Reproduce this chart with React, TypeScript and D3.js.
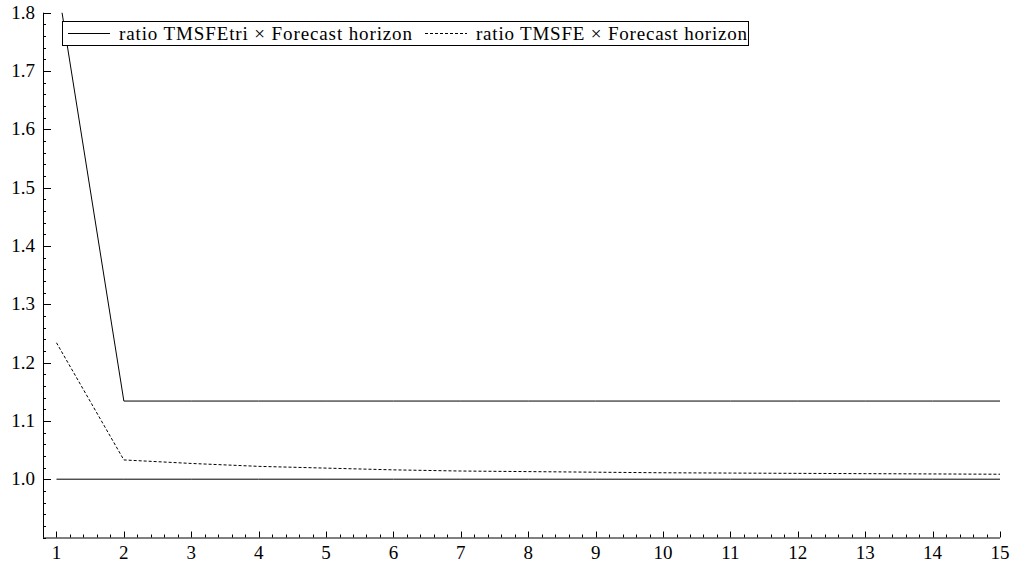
import * as d3 from 'd3';

// forecast horizon
const horizons = [1, 2, 3, 4, 5, 6, 7, 8, 9, 10, 11, 12, 13, 14, 15];
// ratio TMSFEtri (solid)
const ratioTri = [1.86, 1.134, 1.134, 1.134, 1.134, 1.134, 1.134, 1.134, 1.134, 1.134, 1.134, 1.134, 1.134, 1.134, 1.134];
// ratio TMSFE (dashed)
const ratioTmsfe = [1.234, 1.033, 1.027, 1.022, 1.019, 1.016, 1.014, 1.013, 1.012, 1.011, 1.0105, 1.01, 1.0095, 1.009, 1.0085];
// reference line at one
const baseline = [1, 1, 1, 1, 1, 1, 1, 1, 1, 1, 1, 1, 1, 1, 1];

const xMajor = horizons;
const yMajor = [1.0, 1.1, 1.2, 1.3, 1.4, 1.5, 1.6, 1.7, 1.8];
const legendLabels = ['ratio TMSFEtri \u00d7 Forecast horizon', 'ratio TMSFE \u00d7 Forecast horizon'];

const FS = 19;

const left = 43, right = 1000, top = 12.7, bottom = 537.5;
const x = d3.scaleLinear().domain([0.8, 15]).range([left, right]);
const y = d3.scaleLinear().domain([0.9, 1.8]).range([bottom, top]);

// minor ticks every 0.2 / 0.02
const xMinor = d3.range(8, 151, 2).map(v => v / 10).filter(v => !xMajor.includes(v));
const yMinor = d3.range(90, 181, 2).map(v => v / 100).filter(v => !yMajor.some(m => Math.abs(m - v) < 1e-9));

const line = (vals: number[]) => d3.line<number>()
    .x((_, i) => x(horizons[i]))
    .y(d => y(d))(vals) || '';

export default function App() {
    const legendItems = [
        { x0: 68, label: legendLabels[0], dash: undefined, w: 293 },
        { x0: 425, label: legendLabels[1], dash: '3,2', w: 271 },
    ];
    return (
        <div style={{ position: 'absolute', left: 0, top: 0 }}>
            <svg width={1013} height={563} style={{ display: 'block', background: '#fff', fontFamily: 'serif' }}>
                <defs>
                    <clipPath id="plot-clip">
                        <rect x={left} y={top} width={right - left + 2} height={bottom - top} />
                    </clipPath>
                </defs>

                {/* axes */}
                <line x1={left} x2={right} y1={bottom + 0.5} y2={bottom + 0.5} stroke="#000" />
                <line x1={left + 0.5} x2={left + 0.5} y1={top} y2={bottom} stroke="#000" />

                {xMajor.map(v => (
                    <g key={'xm' + v}>
                        <line x1={Math.round(x(v)) + 0.5} x2={Math.round(x(v)) + 0.5} y1={bottom} y2={bottom - 6} stroke="#000" />
                        <text x={x(v)} y={bottom + 21} textAnchor="middle" fontFamily="serif" fontSize={FS} fill="#000">{d3.format('d')(v)}</text>
                    </g>
                ))}
                {xMinor.map(v => (
                    <line key={'xn' + v} x1={Math.round(x(v)) + 0.5} x2={Math.round(x(v)) + 0.5} y1={bottom} y2={bottom - 3} stroke="#000" />
                ))}

                {yMajor.map(v => (
                    <g key={'ym' + v}>
                        <line x1={left} x2={left + 8} y1={Math.round(y(v)) + 0.5} y2={Math.round(y(v)) + 0.5} stroke="#000" />
                        <text x={left - 8} y={y(v) + 6} textAnchor="end" fontFamily="serif" fontSize={FS} fill="#000">{d3.format('.1f')(v)}</text>
                    </g>
                ))}
                {yMinor.map(v => (
                    <line key={'yn' + v} x1={left} x2={left + 3} y1={Math.round(y(v)) + 0.5} y2={Math.round(y(v)) + 0.5} stroke="#000" />
                ))}

                {/* series */}
                <g clipPath="url(#plot-clip)" fill="none" stroke="#000" strokeWidth={1}>
                    <path d={line(baseline)} />
                    <path d={line(ratioTri)} />
                    <path d={line(ratioTmsfe)} strokeDasharray="3,2" />
                </g>

                {/* legend */}
                <rect x={62.5} y={21.5} width={686} height={24} fill="#fff" stroke="#000" />
                {legendItems.map(it => (
                    <g key={it.label}>
                        <line x1={it.x0} x2={it.x0 + 42} y1={33.5} y2={33.5} stroke="#000" strokeDasharray={it.dash} />
                        <text x={it.x0 + 51} y={39.5} fontFamily="serif" fontSize={FS} fill="#000"
                            textLength={it.w} lengthAdjust="spacing">{it.label}</text>
                    </g>
                ))}
            </svg>
        </div>
    );
}
